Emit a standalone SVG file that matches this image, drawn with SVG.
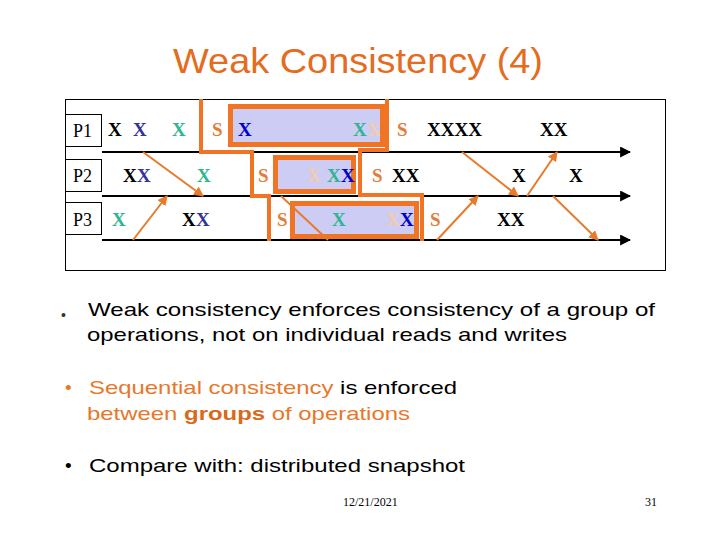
<svg xmlns="http://www.w3.org/2000/svg" width="720" height="540" viewBox="0 0 720 540">
<style>
.t{font-family:"Liberation Serif","Times New Roman",serif;font-size:19px;font-weight:bold}
.k{fill:#000}
.b1{fill:#333399}
.b2{fill:#0000CC}
.g{fill:#2FB592}
.f{fill:#F2CDA8}
.s{fill:#E07E3A}
.lbl{font-family:"Liberation Serif","Times New Roman",serif;font-size:18px;fill:#000}
.box{fill:#CCCCF5;stroke:#F07424;stroke-width:5}
.tl{stroke:#000;stroke-width:2.2;fill:none}
.ar{stroke:#E87A2C;stroke-width:2;fill:none}
.cut{stroke:#F07424;stroke-width:4;fill:none;stroke-linejoin:miter}
.sans{font-family:"Liberation Sans",Arial,sans-serif}
</style>
<defs>
<marker id="ak" viewBox="0 0 10 10" refX="9" refY="5" markerWidth="5" markerHeight="5" orient="auto" markerUnits="strokeWidth"><path d="M0,0 L10,5 L0,10 z" fill="#000"/></marker>
<marker id="ao" viewBox="0 0 10 10" refX="9" refY="5" markerWidth="5" markerHeight="5" orient="auto" markerUnits="strokeWidth"><path d="M0,0 L10,5 L0,10 z" fill="#E87A2C"/></marker>
</defs>
<rect x="0" y="0" width="720" height="540" fill="#fff"/>
<text id="title" class="sans" x="173" y="73" font-size="35" fill="#E46C1E" textLength="370" lengthAdjust="spacingAndGlyphs">Weak Consistency (4)</text>
<rect id="frame" x="65.5" y="99.5" width="600" height="171" fill="#fff" stroke="#000" stroke-width="1"/>
<g id="p1"><rect x="65.5" y="114.5" width="36" height="32" fill="#fff" stroke="#000" stroke-width="1"/><text class="lbl" x="73" y="137">P1</text></g>
<g id="p2"><rect x="65.5" y="159.5" width="36" height="32" fill="#fff" stroke="#000" stroke-width="1"/><text class="lbl" x="73" y="182">P2</text></g>
<g id="p3"><rect x="65.5" y="202.5" width="36" height="32" fill="#fff" stroke="#000" stroke-width="1"/><text class="lbl" x="73" y="226">P3</text></g>
<g id="box1"><rect class="box" x="230.5" y="106.5" width="152" height="38"/></g>
<g id="box2"><rect class="box" x="275.5" y="157.5" width="78" height="34"/></g>
<g id="box3"><rect class="box" x="292.5" y="203.5" width="124" height="33"/></g>
<g id="connectors">
<line class="tl" x1="102" y1="152" x2="630" y2="152" marker-end="url(#ak)"/>
<line class="tl" x1="102" y1="196" x2="630" y2="196" marker-end="url(#ak)"/>
<line class="tl" x1="102" y1="240" x2="630" y2="240" marker-end="url(#ak)"/>
<polyline class="cut" points="201,99 201,152 252,152 252,196 269,196 269,241"/>
<polyline class="cut" points="387,99 387,150 360,150 360,195 422,195 422,241"/>
<line class="ar" x1="143" y1="152" x2="203" y2="196" marker-end="url(#ao)"/>
<line class="ar" x1="133" y1="240" x2="167" y2="196" marker-end="url(#ao)"/>
<line class="ar" x1="281" y1="196" x2="328" y2="240"/>
<line class="ar" x1="437" y1="240" x2="478" y2="196" marker-end="url(#ao)"/>
<line class="ar" x1="462" y1="152" x2="518" y2="196" marker-end="url(#ao)"/>
<line class="ar" x1="527" y1="196" x2="557" y2="152" marker-end="url(#ao)"/>
<line class="ar" x1="553" y1="196" x2="598" y2="240" marker-end="url(#ao)"/>
</g>
<g id="row1" class="t">
<text class="k" x="108" y="136">X</text>
<text class="b1" x="133" y="136">X</text>
<text class="g" x="172" y="136">X</text>
<text class="s" x="212" y="136">S</text>
<text class="b2" x="238" y="136">X</text>
<text class="g" x="353" y="136">X</text>
<text class="f" x="367" y="136">X</text>
<text class="s" x="397" y="136">S</text>
<text class="k" x="427" y="136">XXXX</text>
<text class="k" x="540" y="136">XX</text>
</g>
<g id="row2" class="t">
<text class="k" x="123" y="182">X</text>
<text class="b1" x="137" y="182">X</text>
<text class="g" x="197" y="182">X</text>
<text class="s" x="258" y="182">S</text>
<text class="f" x="307" y="182">X</text>
<text class="g" x="327" y="182">X</text>
<text class="b2" x="341" y="182">X</text>
<text class="s" x="372" y="182">S</text>
<text class="k" x="392" y="182">XX</text>
<text class="k" x="512" y="182">X</text>
<text class="k" x="569" y="182">X</text>
</g>
<g id="row3" class="t">
<text class="g" x="112" y="226">X</text>
<text class="k" x="182" y="226">X</text>
<text class="b1" x="196" y="226">X</text>
<text class="s" x="277" y="226">S</text>
<text class="g" x="332" y="226">X</text>
<text class="f" x="386" y="226">X</text>
<text class="b2" x="400" y="226">X</text>
<text class="s" x="430" y="226">S</text>
<text class="k" x="497" y="226">XX</text>
</g>
<g id="bullets" class="sans">
<text x="61" y="320" font-size="14" fill="#333">•</text>
<text x="88" y="316" font-size="19" fill="#000" textLength="567" lengthAdjust="spacingAndGlyphs">Weak consistency enforces consistency of a group of</text>
<text x="87" y="341" font-size="19" fill="#000" textLength="480" lengthAdjust="spacingAndGlyphs">operations, not on individual reads and writes</text>
<text x="65" y="394" font-size="19" fill="#E8772A">•</text>
<text x="89" y="394" font-size="19" textLength="368" lengthAdjust="spacingAndGlyphs"><tspan fill="#E8772A">Sequential consistency</tspan><tspan fill="#000"> is enforced</tspan></text>
<text x="87" y="420" font-size="19" fill="#E8772A" textLength="323" lengthAdjust="spacingAndGlyphs">between <tspan font-weight="bold" fill="#D86A1A">groups</tspan> of operations</text>
<text x="65" y="472" font-size="19" fill="#000">•</text>
<text x="89" y="472" font-size="19" fill="#000" textLength="376" lengthAdjust="spacingAndGlyphs">Compare with: distributed snapshot</text>
</g>
<g id="footer" font-family="Liberation Serif,Times New Roman,serif" font-size="12" fill="#000">
<text x="343" y="506">12/21/2021</text>
<text x="645" y="506">31</text>
</g>
</svg>
